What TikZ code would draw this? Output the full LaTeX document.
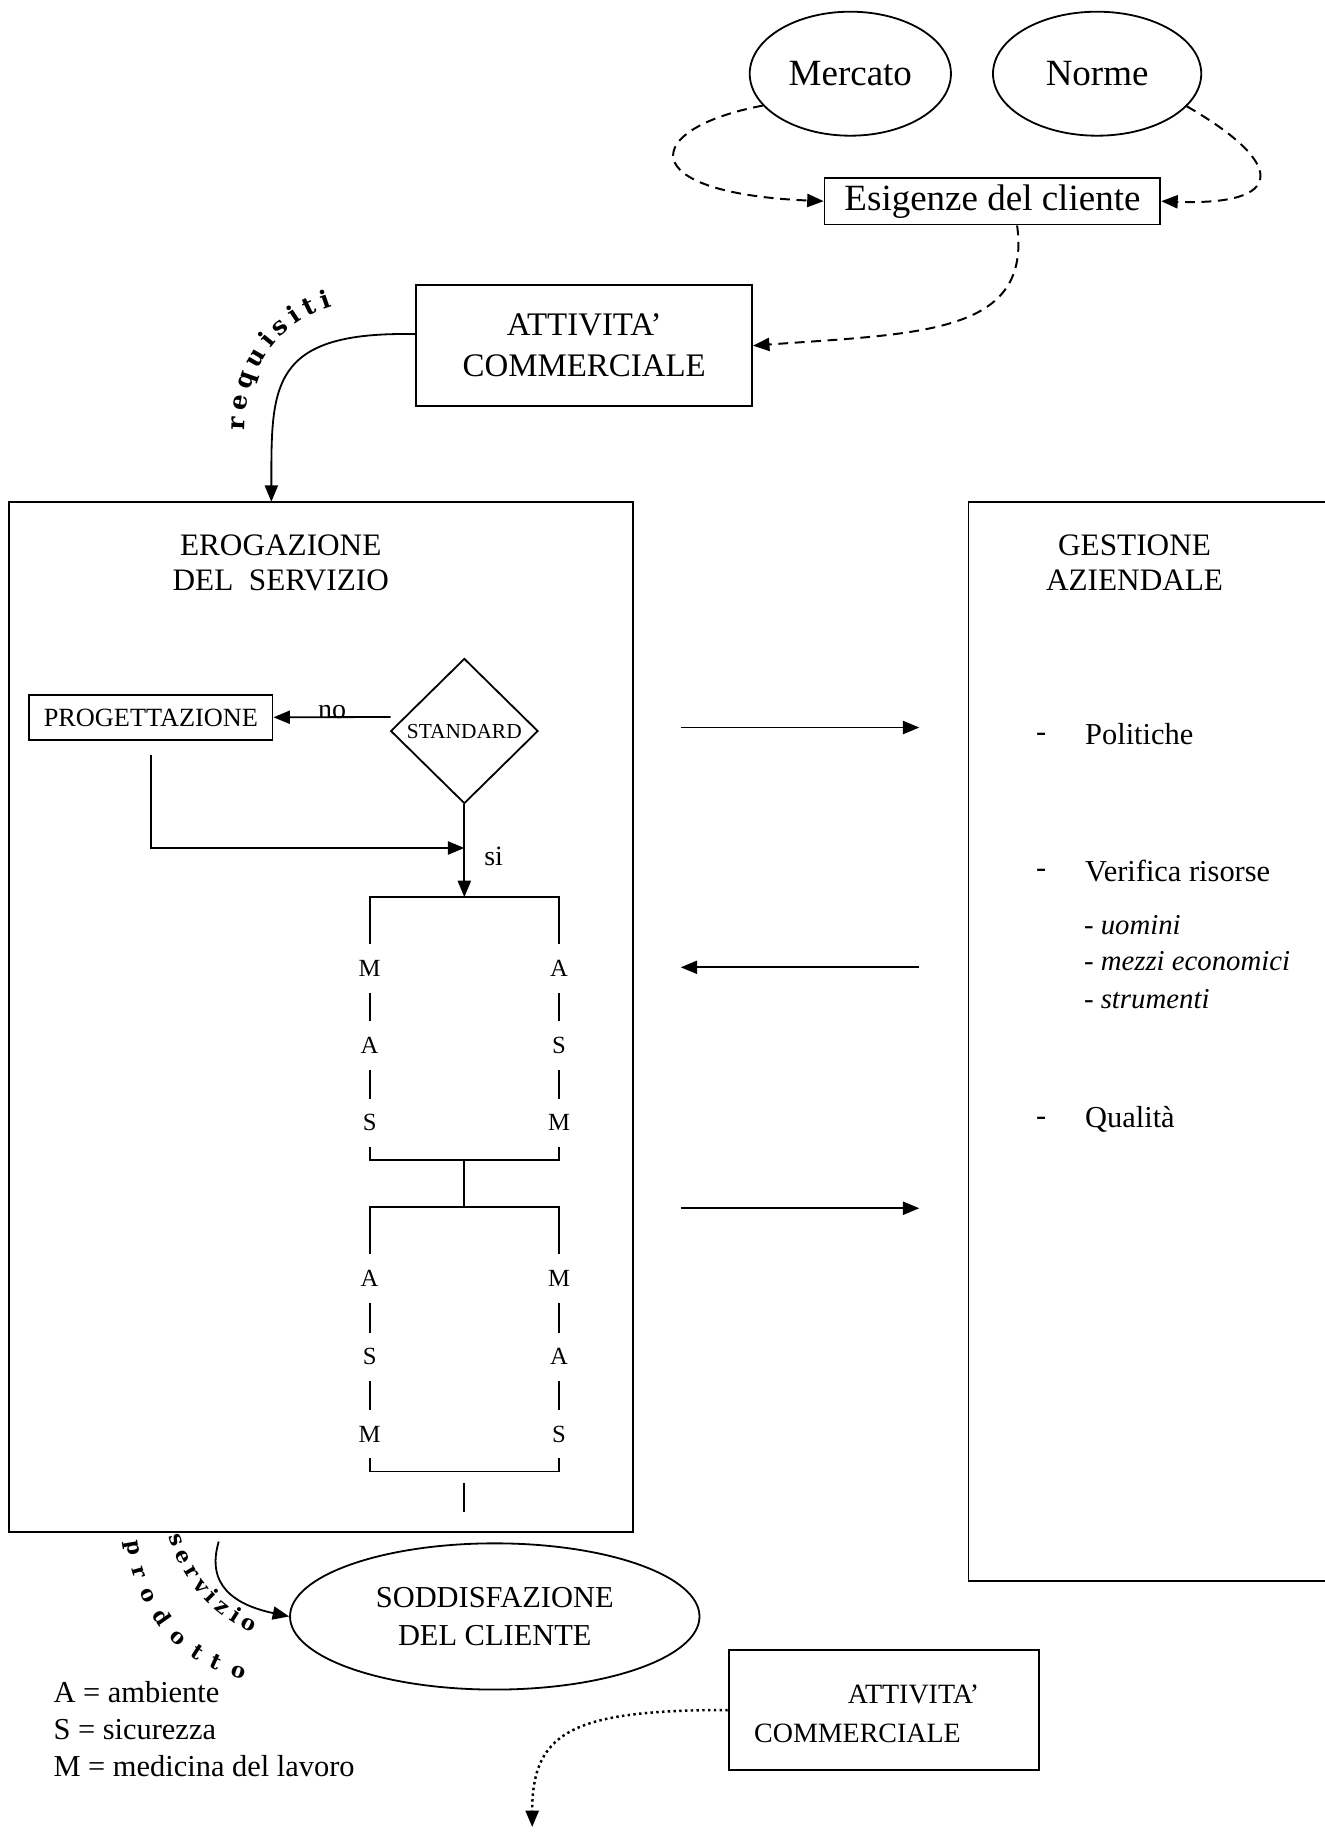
\documentclass[tikz,border=0pt]{standalone}
\usepackage{fontspec}
\setmainfont{Liberation Serif}
\newfontfamily\curvefont{DejaVu Serif}
\usetikzlibrary{positioning}
\usetikzlibrary{arrows.meta, shapes.geometric, decorations.text}

\begin{document}
\begin{tikzpicture}[
        x = 0.025cm, y = -0.025cm, % grid of the sketch
        > = {Triangle[length=10pt, width=8pt]}, % arrow head style
        line width = 1.1pt, % line style
        oval/.style = {ellipse, draw, inner sep=0pt},
        box/.style = {draw, align=center, inner sep=0pt},
        dashline/.style = {dash pattern=on 6pt off 4pt, line width=1.2pt},
        mas/.style = {font=\fontsize{15}{17}\selectfont, inner sep=0pt, minimum height=1cm},
        item/.style = {anchor=west, inner sep=0pt, font=\fontsize{18.5}{22}\selectfont},
        subitem/.style = {anchor=west, inner sep=0pt, font=\fontsize{17.5}{21}\selectfont}
        ]

  \useasboundingbox (0,0) rectangle (1132,1568);

  % sources of the customer needs
  \node[oval, font=\fontsize{22.5}{27}\selectfont, minimum width=4.3cm, minimum height=2.65cm] (merc) at (727,63) {Mercato};
  \node[oval, font=\fontsize{22.5}{27}\selectfont, minimum width=4.45cm, minimum height=2.65cm] (norm) at (938,63) {Norme};
  \node[box, font=\fontsize{22.5}{27}\selectfont, minimum width=7.175cm, minimum height=1cm] (esig) at (848.5,172) {Esigenze del cliente};
  \node[box, font=\fontsize{20}{25}\selectfont, minimum width=7.175cm, minimum height=2.575cm] (comm) at (499.5,295.5) {ATTIVITA’\\COMMERCIALE};

  \draw[->, dashline] (merc.200) .. controls (548,110) and (540,165) .. (esig.west);
  \draw[->, dashline] (norm.340) .. controls (1100,140) and (1100,176) .. (esig.east);
  \draw[->, dashline] ([xshift=15pt]esig.south) .. controls (882,285) and (790,285) .. (comm.east);

  % the two big boxes
  \node[draw, minimum width=13.325cm, minimum height=22.025cm] (erog) at (274.5,869.5) {};
  \node[align=center, font=\fontsize{19}{21.3}\selectfont] (erogt) at (240,481) {EROGAZIONE\\DEL\ \ SERVIZIO};

  \coordinate (gtr) at (1134,429);
  \coordinate (gtl) at (828,429);
  \coordinate (gbl) at (828,1352);
  \coordinate (gbr) at (1134,1352);
  \draw (gtr) -- (gtl) -- (gbl) -- (gbr);
  \node[align=center, font=\fontsize{19}{21.3}\selectfont] (gest) at (970,481) {GESTIONE\\AZIENDALE};

  \coordinate (reqend) at (232,429);
  \draw[->] ([yshift=7pt]comm.west) .. controls (230,283) and (232,330) .. (reqend);
  \path[decorate, decoration={text along path, text align=fit to path,
        text={|\curvefont\bfseries\fontsize{15}{15}\selectfont|requisiti}}]
        (209,368) .. controls (209,316) and (238,276) .. (284,262);

  % flow inside the service box
  \node[box, font=\fontsize{16}{19}\selectfont, minimum width=5.2cm, minimum height=0.975cm] (prog) at (129,613.5) {PROGETTAZIONE};
  \node[diamond, draw, inner sep=0pt, font=\fontsize{13}{15}\selectfont, minimum width=3.15cm, minimum height=3.1cm] (std) at (397,625) {STANDARD};

  \coordinate (nostart) at (334,613);
  \draw[->] (nostart) -- (prog) node[midway, inner sep=0pt, yshift=3pt, font=\fontsize{17}{20}\selectfont] (no) {no};
  \coordinate (join) at (397,725);
  \draw[->] ([yshift=-8.5pt]prog.south) |- (join);
  \coordinate (top1) at (397,767);
  \draw[->] (std.south) -- (top1);
  \node[font=\fontsize{17}{20}\selectfont] (si) at (422,732) {si};

  % first M A S block
  \coordinate (b1l) at (316,767);
  \coordinate (b1r) at (478,767);
  \node[mas] (l1) at (316,828) {M};
  \node[mas] (l2) at (316,894) {A};
  \node[mas] (l3) at (316,960) {S};
  \node[mas] (r1) at (478,828) {A};
  \node[mas] (r2) at (478,894) {S};
  \node[mas] (r3) at (478,960) {M};
  \coordinate (b2l) at (316,992);
  \coordinate (b2r) at (478,992);
  \draw (l1) -- (b1l) -- (b1r) -- (r1);
  \draw (l1) -- (l2) -- (l3) -- (b2l) -- (b2r) -- (r3) -- (r2) -- (r1);

  \coordinate (b2m) at (397,992);
  \coordinate (b3m) at (397,1032);
  \draw (b2m) -- (b3m);

  % second M A S block
  \coordinate (b3l) at (316,1032);
  \coordinate (b3r) at (478,1032);
  \node[mas] (l4) at (316,1093) {A};
  \node[mas] (l5) at (316,1160) {S};
  \node[mas] (l6) at (316,1226) {M};
  \node[mas] (r4) at (478,1093) {M};
  \node[mas] (r5) at (478,1160) {A};
  \node[mas] (r6) at (478,1226) {S};
  \coordinate (b4l) at (316,1258);
  \coordinate (b4r) at (478,1258);
  \draw (l4) -- (b3l) -- (b3r) -- (r4);
  \draw (l4) -- (l5) -- (l6) -- (b4l) -- (b4r) -- (r6) -- (r5) -- (r4);
  \coordinate (s1) at (397,1268);
  \coordinate (s2) at (397,1293);
  \draw (s1) -- (s2);

  % exchange with the management
  \coordinate (a1s) at (582,622);
  \coordinate (a1e) at (786,622);
  \coordinate (a2s) at (786,827);
  \coordinate (a2e) at (582,827);
  \coordinate (a3s) at (582,1033);
  \coordinate (a3e) at (786,1033);
  \draw[->] (a1s) -- (a1e);
  \draw[->] (a2s) -- (a2e);
  \draw[->] (a3s) -- (a3e);

  \node[item] (d1) at (885,630) {-};
  \node[item] (pol) at (927,628) {Politiche};
  \node[item] (d2) at (885,747) {-};
  \node[item] (ver) at (927,745) {Verifica risorse};
  \node[subitem] (uom) at (926,791) {-~\textit{uomini}};
  \node[subitem] (mez) at (926,822) {-~\textit{mezzi economici}};
  \node[subitem] (str) at (926,854) {-~\textit{strumenti}};
  \node[item] (d3) at (885,959) {-};
  \node[item] (qual) at (927,957) {Qualità};

  % output of the service
  \node[oval, font=\fontsize{18.5}{22.8}\selectfont, align=center, minimum width=8.75cm, minimum height=3.125cm] (sodd) at (423,1382) {SODDISFAZIONE\\DEL CLIENTE};
  \coordinate (servs) at (187,1318);
  \draw[->] (servs) .. controls (176,1355) and (200,1372) .. (sodd.west);
  \path[decorate, decoration={text along path, text align=fit to path,
        text={|\curvefont\bfseries\fontsize{13}{13}\selectfont|servizio}}]
        (144,1314) .. controls (158,1354) and (180,1380) .. (216,1396);
  \path[decorate, decoration={text along path, text align=fit to path,
        text={|\curvefont\bfseries\fontsize{13}{13}\selectfont|prodotto}}]
        (108,1318) .. controls (118,1388) and (156,1422) .. (208,1436);

  \node[anchor=west, align=left, inner sep=0pt, font=\fontsize{18.5}{22.4}\selectfont] (leg) at (45,1478) {A = ambiente\\S = sicurezza\\M = medicina del lavoro};

  \node[draw, minimum width=6.625cm, minimum height=2.55cm] (comm2) at (755.5,1462) {};
  \node[align=left, inner sep=0pt, font=\fontsize{17}{23.5}\selectfont] (comm2t) at (741,1465) {\hspace*{57pt}ATTIVITA’\\COMMERCIALE};
  \coordinate (dotend) at (455,1562);
  \draw[->, dotted, line width=1.5pt] (comm2.west) .. controls (490,1462) and (455,1480) .. (dotend);

\end{tikzpicture}
\end{document}
